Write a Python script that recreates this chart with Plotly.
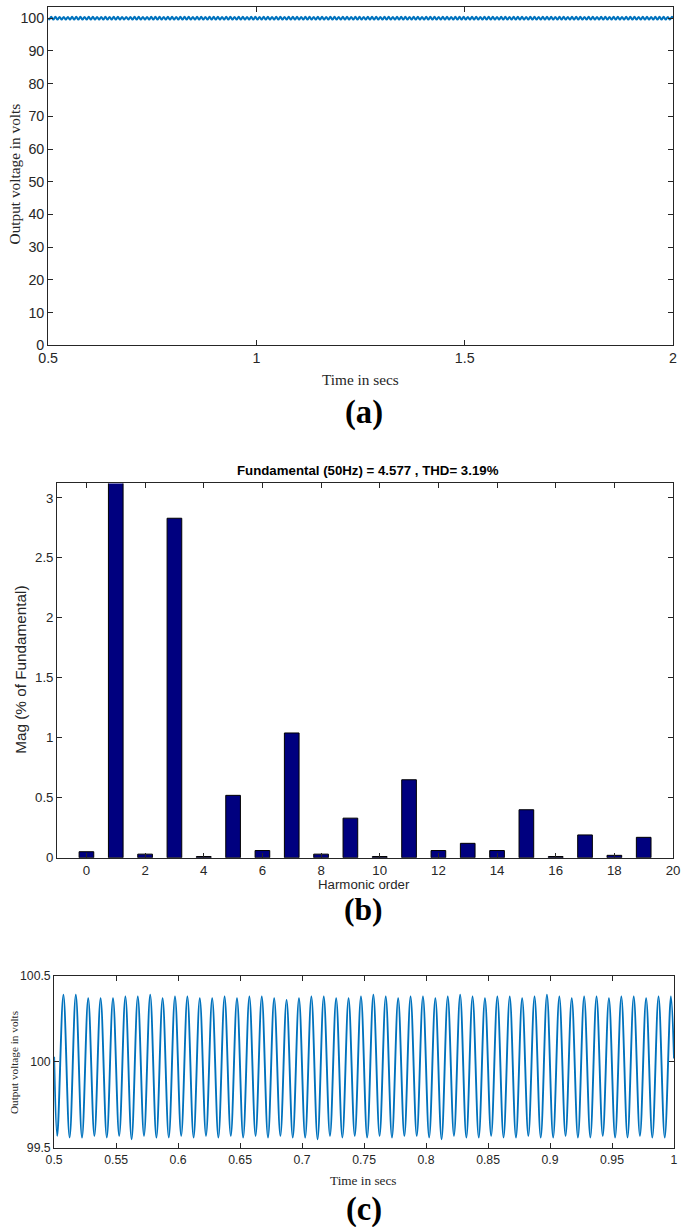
import plotly.graph_objects as go

# ---------------- data ----------------
# Output voltage ripple (100 Hz): value at each trough / peak
ripple_start = 100.03
ripple_end = 100.02
trough_vals = [
    99.57, 99.56, 99.56, 99.57, 99.56, 99.57, 99.55, 99.57, 99.56, 99.56,
    99.57, 99.56, 99.57, 99.56, 99.57, 99.56, 99.57, 99.56, 99.57, 99.56,
    99.56, 99.55, 99.57, 99.56, 99.57, 99.56, 99.57, 99.56, 99.57, 99.57,
    99.56, 99.55, 99.57, 99.56, 99.56, 99.57, 99.56, 99.56, 99.57, 99.56,
    99.56, 99.57, 99.56, 99.56, 99.57, 99.56, 99.56, 99.57, 99.56, 99.56,
    99.57, 99.56, 99.57, 99.56, 99.56, 99.57, 99.55, 99.56, 99.57, 99.56,
    99.56, 99.57, 99.56, 99.57, 99.56, 99.55, 99.57, 99.56, 99.57, 99.56,
    99.57, 99.56, 99.56, 99.57, 99.56, 99.57, 99.56, 99.55, 99.57, 99.56,
    99.56, 99.57, 99.56, 99.57, 99.56, 99.56, 99.57, 99.56, 99.55, 99.57,
    99.56, 99.57, 99.56, 99.56, 99.57, 99.56, 99.57, 99.56, 99.56, 99.57,
    99.56, 99.57, 99.55, 99.56, 99.57, 99.56, 99.56, 99.57, 99.56, 99.57,
    99.56, 99.56, 99.57, 99.56, 99.57, 99.55, 99.56, 99.57, 99.56, 99.56,
    99.57, 99.56, 99.57, 99.56, 99.56, 99.57, 99.56, 99.55, 99.57, 99.56,
    99.56, 99.57, 99.56, 99.57, 99.56, 99.56, 99.57, 99.56, 99.57, 99.56,
    99.55, 99.57, 99.56, 99.56, 99.57, 99.56, 99.57, 99.56, 99.56, 99.57,
]
peak_vals = [
    100.39, 100.39, 100.37, 100.37, 100.37, 100.38, 100.38, 100.39, 100.37, 100.38,
    100.38, 100.37, 100.37, 100.38, 100.37, 100.38, 100.38, 100.37, 100.36, 100.37,
    100.38, 100.38, 100.37, 100.37, 100.38, 100.39, 100.38, 100.37, 100.38, 100.38,
    100.37, 100.38, 100.39, 100.38, 100.37, 100.38, 100.38, 100.37, 100.38, 100.39,
    100.38, 100.37, 100.38, 100.38, 100.37, 100.38, 100.38, 100.37, 100.38, 100.38,
    100.37, 100.38, 100.39, 100.37, 100.38, 100.38, 100.37, 100.38, 100.39, 100.38,
    100.37, 100.38, 100.38, 100.37, 100.39, 100.38, 100.37, 100.38, 100.38, 100.37,
    100.38, 100.39, 100.37, 100.38, 100.38, 100.37, 100.38, 100.38, 100.39, 100.37,
    100.38, 100.38, 100.37, 100.38, 100.39, 100.38, 100.37, 100.38, 100.38, 100.37,
    100.38, 100.38, 100.39, 100.37, 100.38, 100.38, 100.37, 100.38, 100.38, 100.39,
    100.37, 100.38, 100.38, 100.37, 100.38, 100.39, 100.38, 100.37, 100.38, 100.38,
    100.37, 100.38, 100.39, 100.38, 100.37, 100.38, 100.38, 100.37, 100.38, 100.39,
    100.38, 100.37, 100.38, 100.38, 100.37, 100.38, 100.39, 100.38, 100.37, 100.38,
    100.38, 100.37, 100.39, 100.38, 100.37, 100.38, 100.38, 100.37, 100.38, 100.39,
    100.38, 100.37, 100.38, 100.38, 100.37, 100.38, 100.39, 100.38, 100.37, 100.38,
]
t_start = 0.5
t_end = 2.0
ripple_period = 0.01        # 100 Hz ripple
first_trough_t = 0.5025

# Harmonic spectrum (% of fundamental)
harm_order = list(range(20))
harm_mag = [0.05, 3.20, 0.03, 2.83, 0.01, 0.52, 0.06, 1.04, 0.03, 0.33,
            0.01, 0.65, 0.06, 0.12, 0.06, 0.40, 0.01, 0.19, 0.02, 0.17]

title_b = "Fundamental (50Hz) = 4.577 , THD= 3.19%"

# ---------------- build sample series ----------------
t_pts = [t_start]
v_pts = [ripple_start]
for k in range(len(trough_vals)):
    tt = first_trough_t + k * ripple_period
    t_pts.append(tt)
    v_pts.append(trough_vals[k])
    tp = tt + ripple_period / 2
    t_pts.append(tp)
    v_pts.append(peak_vals[k])
t_pts.append(t_end)
v_pts.append(ripple_end)

# subset for zoomed panel (c)
tc = [t for t in t_pts if t <= 1.0] + [1.0]
vc = [v for t, v in zip(t_pts, v_pts) if t <= 1.0] + [ripple_end]

# ---------------- layout geometry ----------------
# target pixel positions (in the 685x1227 picture) mapped to figure coordinates
SX, SY = 701 / 685, 1243 / 1227
OFF = 8
W, H = 693, 1235
def fx(X): return X * SX - OFF
def fy(Y): return Y * SY - OFF
def px(X): return min(1.0, max(0.0, fx(X) / W))
def py(Y): return min(1.0, max(0.0, 1 - fy(Y) / H))
def pxa(X): return fx(X) / W
def pya(Y): return 1 - fy(Y) / H
FS = 1.02

blue = "#0072BD"
axcol = "#262626"
sans_n = "Liberation Sans Narrow, Liberation Sans, Arial, sans-serif"
sans = "Liberation Sans, Arial, sans-serif"
serif = "Liberation Serif, Times New Roman, serif"

fig = go.Figure()
fig.add_trace(go.Scatter(x=t_pts, y=v_pts, mode="lines", line=dict(color=blue, width=2, shape="spline"),
                         xaxis="x", yaxis="y", showlegend=False))
fig.add_trace(go.Bar(x=harm_order, y=harm_mag, width=0.5,
                     marker=dict(color="#00007F", line=dict(color="black", width=1)),
                     xaxis="x2", yaxis="y2", showlegend=False))
fig.add_trace(go.Scatter(x=tc, y=vc, mode="lines", line=dict(color=blue, width=1.9, shape="spline"),
                         xaxis="x3", yaxis="y3", showlegend=False))

common = dict(showline=True, linecolor=axcol, linewidth=1, mirror="ticks", ticks="inside",
              ticklen=5, tickcolor=axcol, showgrid=False, zeroline=False)

# panel (a): 100 V at y=19, 0 V at y=346 in the picture
top_val = 100 + (fy(19) - max(0, fy(3))) / ((fy(346) - fy(19)) / 100)

fig.update_layout(
    width=W, height=H, margin=dict(l=0, r=0, t=0, b=0), autosize=False,
    paper_bgcolor="white", plot_bgcolor="white",
    xaxis=dict(domain=[px(46), px(672)], anchor="y", range=[0.5, 2], tickvals=[0.5, 1, 1.5, 2],
               ticktext=["0.5", "1", "1.5", "2"], tickfont=dict(family=sans_n, size=14 * FS, color=axcol), **common),
    yaxis=dict(domain=[py(346), py(3)], anchor="x", range=[0, top_val], tickvals=list(range(0, 101, 10)),
               tickfont=dict(family=sans_n, size=14 * FS, color=axcol), **common),
    xaxis2=dict(domain=[px(55), px(672)], anchor="y2", range=[-1, 20], tickvals=list(range(0, 21, 2)),
                tickfont=dict(family=sans, size=13 * FS, color=axcol), **common),
    yaxis2=dict(domain=[py(858), py(484)], anchor="x2", range=[0, 3.12],
                tickvals=[0, 0.5, 1, 1.5, 2, 2.5, 3], ticktext=["0", "0.5", "1", "1.5", "2", "2.5", "3"],
                tickfont=dict(family=sans, size=13 * FS, color=axcol), **common),
    xaxis3=dict(domain=[px(52), px(673)], anchor="y3", range=[0.5, 1],
                tickvals=[0.5, 0.55, 0.6, 0.65, 0.7, 0.75, 0.8, 0.85, 0.9, 0.95, 1],
                ticktext=["0.5", "0.55", "0.6", "0.65", "0.7", "0.75", "0.8", "0.85", "0.9", "0.95", "1"],
                tickfont=dict(family=sans_n, size=12 * FS, color=axcol), **common),
    yaxis3=dict(domain=[py(1148), py(976)], anchor="x3", range=[99.5, 100.5],
                tickvals=[99.5, 100, 100.5], ticktext=["99.5", "100", "100.5"],
                tickfont=dict(family=sans_n, size=12 * FS, color=axcol), **common),
)

def ann(text, x, y, size, family, bold=False, angle=0, color="black"):
    fig.add_annotation(text=f"<b>{text}</b>" if bold else text, x=pxa(x), y=pya(y), xref="paper", yref="paper",
                       showarrow=False, xanchor="center", yanchor="middle", textangle=angle,
                       font=dict(size=size * FS, family=family, color=color))

ann("Time in secs", 359, 380, 15, serif, color=axcol)
ann("Output voltage in volts", 12, 175, 15, serif, angle=-90, color=axcol)
ann("(a)", 362, 413, 32, serif, bold=True)

ann(title_b, 366, 471, 13, sans, bold=True)
ann("Harmonic order", 362, 885, 13, sans, color=axcol)
ann("Mag (% of Fundamental)", 18, 670, 15, sans, angle=-90, color=axcol)
ann("(b)", 362, 910, 31, serif, bold=True)

ann("Time in secs", 362, 1181, 13, serif, color=axcol)
ann("Output voltage in volts", 12, 1063, 11, serif, angle=-90, color=axcol)
ann("(c)", 362, 1210, 32, serif, bold=True)

fig.write_html("out.html", config={"responsive": False, "displayModeBar": False},
               post_script="document.body.style.margin='0';document.body.style.padding='0';"
                           "document.body.style.overflow='hidden';")
